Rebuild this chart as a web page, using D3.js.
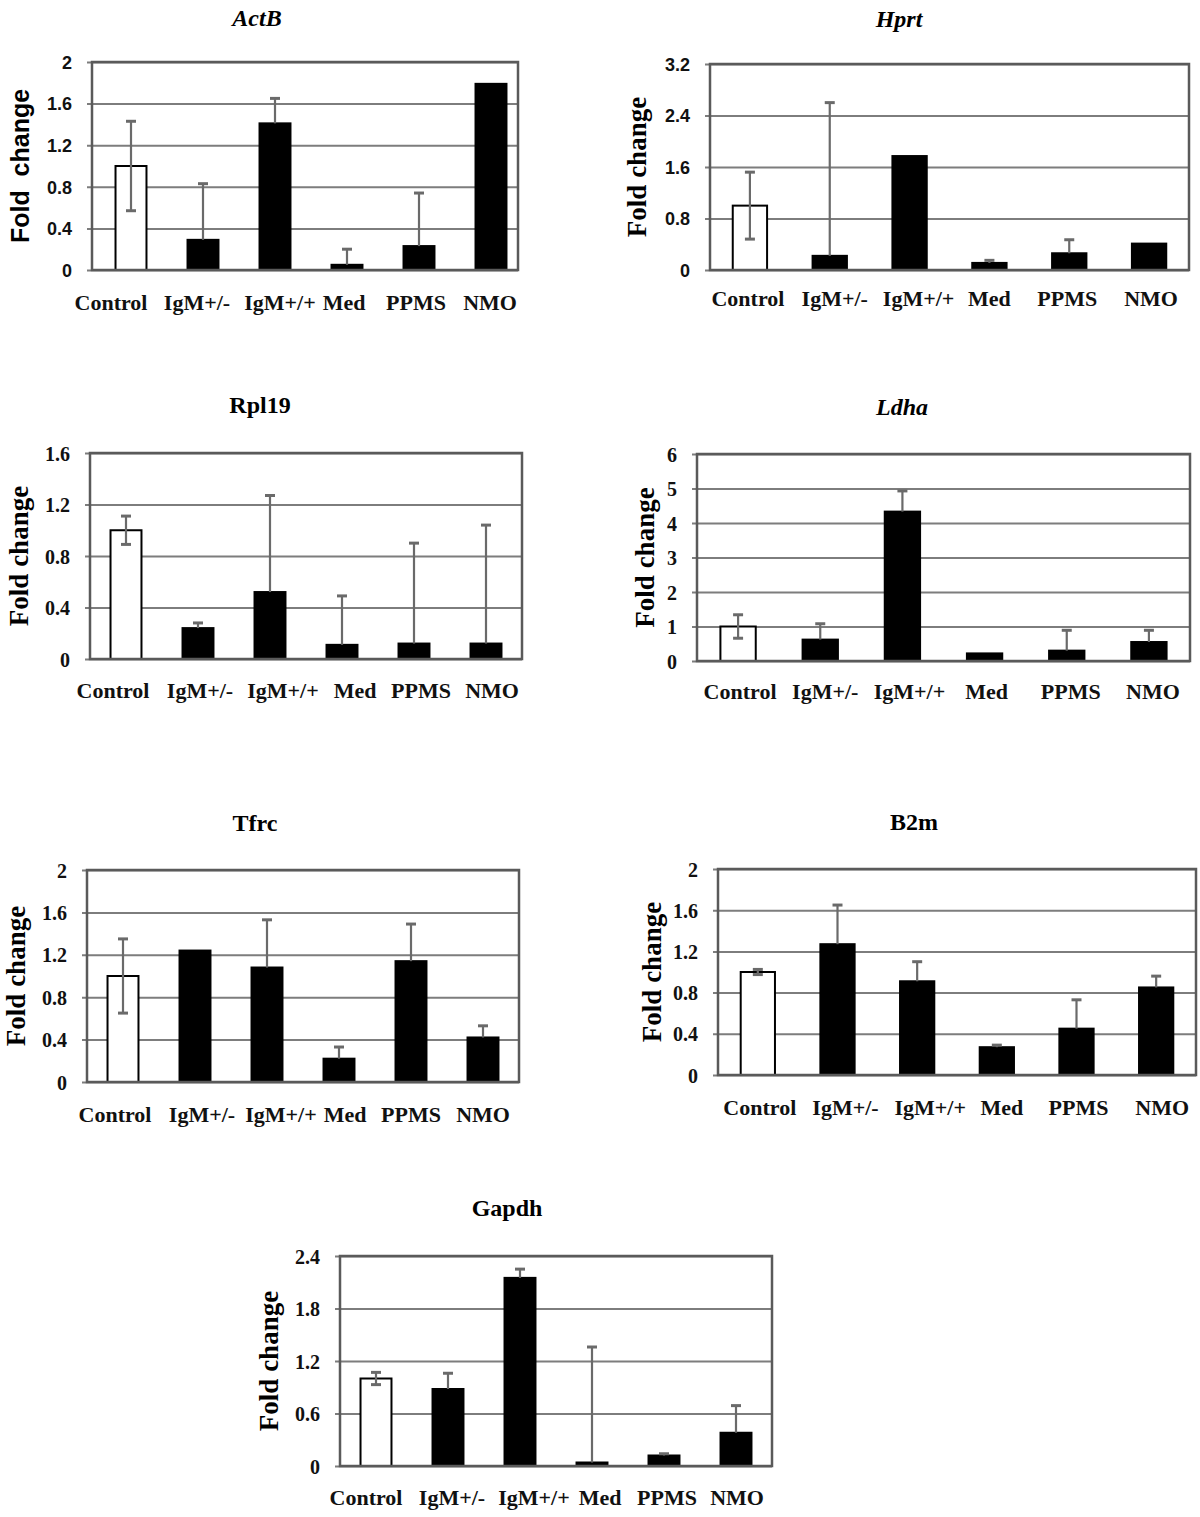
<!DOCTYPE html>
<html>
<head>
<meta charset="utf-8">
<script src="https://cdnjs.cloudflare.com/ajax/libs/d3/7.8.5/d3.min.js"></script>
<style>
  body { margin: 0; background: #ffffff; }
  .title { font-family: "Liberation Serif", "Times New Roman", serif; font-weight: bold; font-size: 24px; }
  .fold { font-family: "Liberation Serif", "Times New Roman", serif; font-weight: bold; font-size: 27px; white-space: pre; }
</style>
</head>
<body>
<script>
// categories shared by every panel
var categories = ["Control", "IgM+/-", "IgM+/+", "Med", "PPMS", "NMO"];

// fold change (mean) and error bar size per gene
var actbMean = [1.0, 0.29, 1.41, 0.05, 0.23, 1.79];
var actbErr = [0.43, 0.54, 0.24, 0.15, 0.51, 0];
var actbTicks = [0, 0.4, 0.8, 1.2, 1.6, 2];

var hprtMean = [1.0, 0.22, 1.77, 0.11, 0.26, 0.41];
var hprtErr = [0.52, 2.38, 0, 0.04, 0.21, 0];
var hprtTicks = [0, 0.8, 1.6, 2.4, 3.2];

var rpl19Mean = [1.0, 0.24, 0.52, 0.11, 0.12, 0.12];
var rpl19Err = [0.11, 0.04, 0.75, 0.38, 0.78, 0.92];
var rpl19Ticks = [0, 0.4, 0.8, 1.2, 1.6];

var ldhaMean = [1.0, 0.62, 4.33, 0.22, 0.3, 0.55];
var ldhaErr = [0.34, 0.46, 0.6, 0, 0.59, 0.34];
var ldhaTicks = [0, 1, 2, 3, 4, 5, 6];

var tfrcMean = [1.0, 1.24, 1.08, 0.22, 1.14, 0.42];
var tfrcErr = [0.35, 0, 0.45, 0.11, 0.35, 0.11];
var tfrcTicks = [0, 0.4, 0.8, 1.2, 1.6, 2];

var b2mMean = [1.0, 1.27, 0.91, 0.27, 0.45, 0.85];
var b2mErr = [0.025, 0.38, 0.19, 0.02, 0.28, 0.11];
var b2mTicks = [0, 0.4, 0.8, 1.2, 1.6, 2];

var gapdhMean = [1.0, 0.88, 2.15, 0.04, 0.12, 0.38];
var gapdhErr = [0.07, 0.18, 0.1, 1.32, 0.02, 0.31];
var gapdhTicks = [0, 0.6, 1.2, 1.8, 2.4];

// svg size
var w = 1200;
var h = 1517;

// panel placement on the page (frame box, bar band range, text spots, label nudges)
var panels = [
  {name: "ActB", italic: true, sansTicks: true, sansFold: true, foldText: "Fold  change",
   mean: actbMean, err: actbErr, ticks: actbTicks,
   left: 92, right: 518, bandLeft: 95, bandRight: 527, top: 62, bottom: 270,
   titleX: 257, titleY: 26, foldX: 20, catY: 310, shift: [-20, -6, 5, -3, -3, -1]},
  {name: "Hprt", italic: true, sansTicks: true, sansFold: false, foldText: "Fold change",
   mean: hprtMean, err: hprtErr, ticks: hprtTicks,
   left: 710, right: 1189, top: 64, bottom: 270,
   titleX: 899, titleY: 27, foldX: 637, catY: 306, shift: [-2, 5, 9, 0, -2, 2]},
  {name: "Rpl19", italic: false, sansTicks: false, sansFold: false, foldText: "Fold change",
   mean: rpl19Mean, err: rpl19Err, ticks: rpl19Ticks,
   left: 90, right: 522, top: 453, bottom: 659,
   titleX: 260, titleY: 413, foldX: 19, catY: 698, shift: [-13, 2, 13, 13, 7, 6]},
  {name: "Ldha", italic: true, sansTicks: false, sansFold: false, foldText: "Fold change",
   mean: ldhaMean, err: ldhaErr, ticks: ldhaTicks,
   left: 697, right: 1190, top: 454, bottom: 661,
   titleX: 902, titleY: 415, foldX: 645, catY: 699, shift: [2, 5, 7, 2, 4, 4]},
  {name: "Tfrc", italic: false, sansTicks: false, sansFold: false, foldText: "Fold change",
   mean: tfrcMean, err: tfrcErr, ticks: tfrcTicks,
   left: 87, right: 519, top: 870, bottom: 1082,
   titleX: 255, titleY: 831, foldX: 16, catY: 1122, shift: [-8, 7, 14, 6, 0, 0]},
  {name: "B2m", italic: false, sansTicks: false, sansFold: false, foldText: "Fold change",
   mean: b2mMean, err: b2mErr, ticks: b2mTicks,
   left: 718, right: 1196, top: 869, bottom: 1075,
   titleX: 914, titleY: 830, foldX: 652, catY: 1115, shift: [2, 8, 13, 5, 2, 6]},
  {name: "Gapdh", italic: false, sansTicks: false, sansFold: false, foldText: "Fold change",
   mean: gapdhMean, err: gapdhErr, ticks: gapdhTicks,
   left: 340, right: 772, top: 1256, bottom: 1466,
   titleX: 507, titleY: 1216, foldX: 269, catY: 1505, shift: [-10, 4, 14, 8, 3, 1]}
];

var serif = "'Liberation Serif', 'Times New Roman', serif";
var sans = "'Liberation Sans', Arial, sans-serif";

var svg = d3.select("body")
            .append("svg")
            .attr("width", w)
            .attr("height", h);

svg.append("rect")
   .attr("width", w)
   .attr("height", h)
   .attr("fill", "#ffffff");

panels.forEach(function(p) {
  drawPanel(p);
});


function drawPanel(p) {
  var pw = p.right - p.left;
  var ph = p.bottom - p.top;
  var maxY = p.ticks[p.ticks.length - 1];

  // bars sit in their own band range (ActB is a bit off-centre in its box)
  var x = d3.scaleBand()
            .domain(categories)
            .range([p.bandLeft || p.left, p.bandRight || p.right])
            .paddingInner(0.57)
            .paddingOuter(0.285);

  var y = d3.scaleLinear()
            .domain([0, maxY])
            .range([p.bottom, p.top]);

  // title
  svg.append("text")
     .attr("class", "title")
     .attr("x", p.titleX)
     .attr("y", p.titleY)
     .attr("text-anchor", "middle")
     .style("font-style", p.italic ? "italic" : "normal")
     .text(p.name);

  // y axis with grid lines
  var yAxis = d3.axisLeft(y)
                .tickValues(p.ticks)
                .tickFormat(function(d) { return String(d); })
                .tickSizeOuter(0);

  var gy = svg.append("g")
              .attr("transform", "translate(" + p.left + ",0)")
              .call(yAxis);

  gy.select(".domain").remove();

  gy.selectAll(".tick line")
    .attr("x1", -5)
    .attr("x2", pw)
    .attr("stroke", "#7d7d7d")
    .attr("stroke-width", 2);

  gy.selectAll(".tick text")
    .attr("x", -20)
    .attr("dy", "0.35em")
    .attr("fill", "#111")
    .style("font-family", p.sansTicks ? sans : serif)
    .style("font-weight", "bold")
    .style("font-size", p.sansTicks ? "18px" : "20px");

  // y label
  svg.append("text")
     .attr("class", "fold")
     .attr("transform", "translate(" + p.foldX + "," + ((p.top + p.bottom) / 2) + ") rotate(-90)")
     .attr("text-anchor", "middle")
     .attr("dominant-baseline", "central")
     .style("font-family", p.sansFold ? sans : serif)
     .style("font-size", p.sansFold ? "25px" : "27px")
     .text(p.foldText);

  // bars
  svg.append("g")
     .selectAll("rect")
     .data(p.mean)
     .enter()
     .append("rect")
     .attr("x", function(d, i) { return x(categories[i]); })
     .attr("y", function(d) { return y(d); })
     .attr("width", x.bandwidth())
     .attr("height", function(d) { return y(0) - y(d); })
     .attr("fill", function(d, i) { return i == 0 ? "#ffffff" : "#000000"; })
     .attr("stroke", "#000000")
     .attr("stroke-width", 2);

  // error bars: both ways for control, upward only for the filled bars
  var errData = p.mean.map(function(m, i) {
    return {cat: categories[i], mean: m, err: p.err[i], both: i == 0};
  }).filter(function(d) { return d.err > 0; });

  var eg = svg.append("g")
              .attr("stroke", "#6a6a6a")
              .attr("stroke-width", 2.2);

  var cap = 5;

  eg.selectAll(".stem")
    .data(errData)
    .enter()
    .append("line")
    .attr("x1", function(d) { return x(d.cat) + x.bandwidth() / 2; })
    .attr("x2", function(d) { return x(d.cat) + x.bandwidth() / 2; })
    .attr("y1", function(d) { return y(d.both ? d.mean - d.err : d.mean); })
    .attr("y2", function(d) { return y(d.mean + d.err); });

  eg.selectAll(".capTop")
    .data(errData)
    .enter()
    .append("line")
    .attr("x1", function(d) { return x(d.cat) + x.bandwidth() / 2 - cap; })
    .attr("x2", function(d) { return x(d.cat) + x.bandwidth() / 2 + cap; })
    .attr("y1", function(d) { return y(d.mean + d.err); })
    .attr("y2", function(d) { return y(d.mean + d.err); })
    .attr("stroke-width", 3);

  eg.selectAll(".capLow")
    .data(errData.filter(function(d) { return d.both; }))
    .enter()
    .append("line")
    .attr("x1", function(d) { return x(d.cat) + x.bandwidth() / 2 - cap; })
    .attr("x2", function(d) { return x(d.cat) + x.bandwidth() / 2 + cap; })
    .attr("y1", function(d) { return y(d.mean - d.err); })
    .attr("y2", function(d) { return y(d.mean - d.err); })
    .attr("stroke-width", 3);

  // plot frame
  svg.append("rect")
     .attr("x", p.left)
     .attr("y", p.top)
     .attr("width", pw)
     .attr("height", ph)
     .attr("fill", "none")
     .attr("stroke", "#5a5a5a")
     .attr("stroke-width", 2.5);

  // category labels
  var xAxis = d3.axisBottom(x)
                .tickSize(0);

  var gx = svg.append("g")
              .attr("transform", "translate(0," + p.bottom + ")")
              .call(xAxis);

  gx.select(".domain").remove();

  gx.selectAll(".tick text")
    .attr("y", p.catY - p.bottom)
    .attr("dy", 0)
    .attr("dx", function(d, i) { return p.shift[i]; })
    .attr("fill", "#111")
    .style("font-family", serif)
    .style("font-size", "22px")
    .style("font-weight", "bold");
}
</script>
</body>
</html>
